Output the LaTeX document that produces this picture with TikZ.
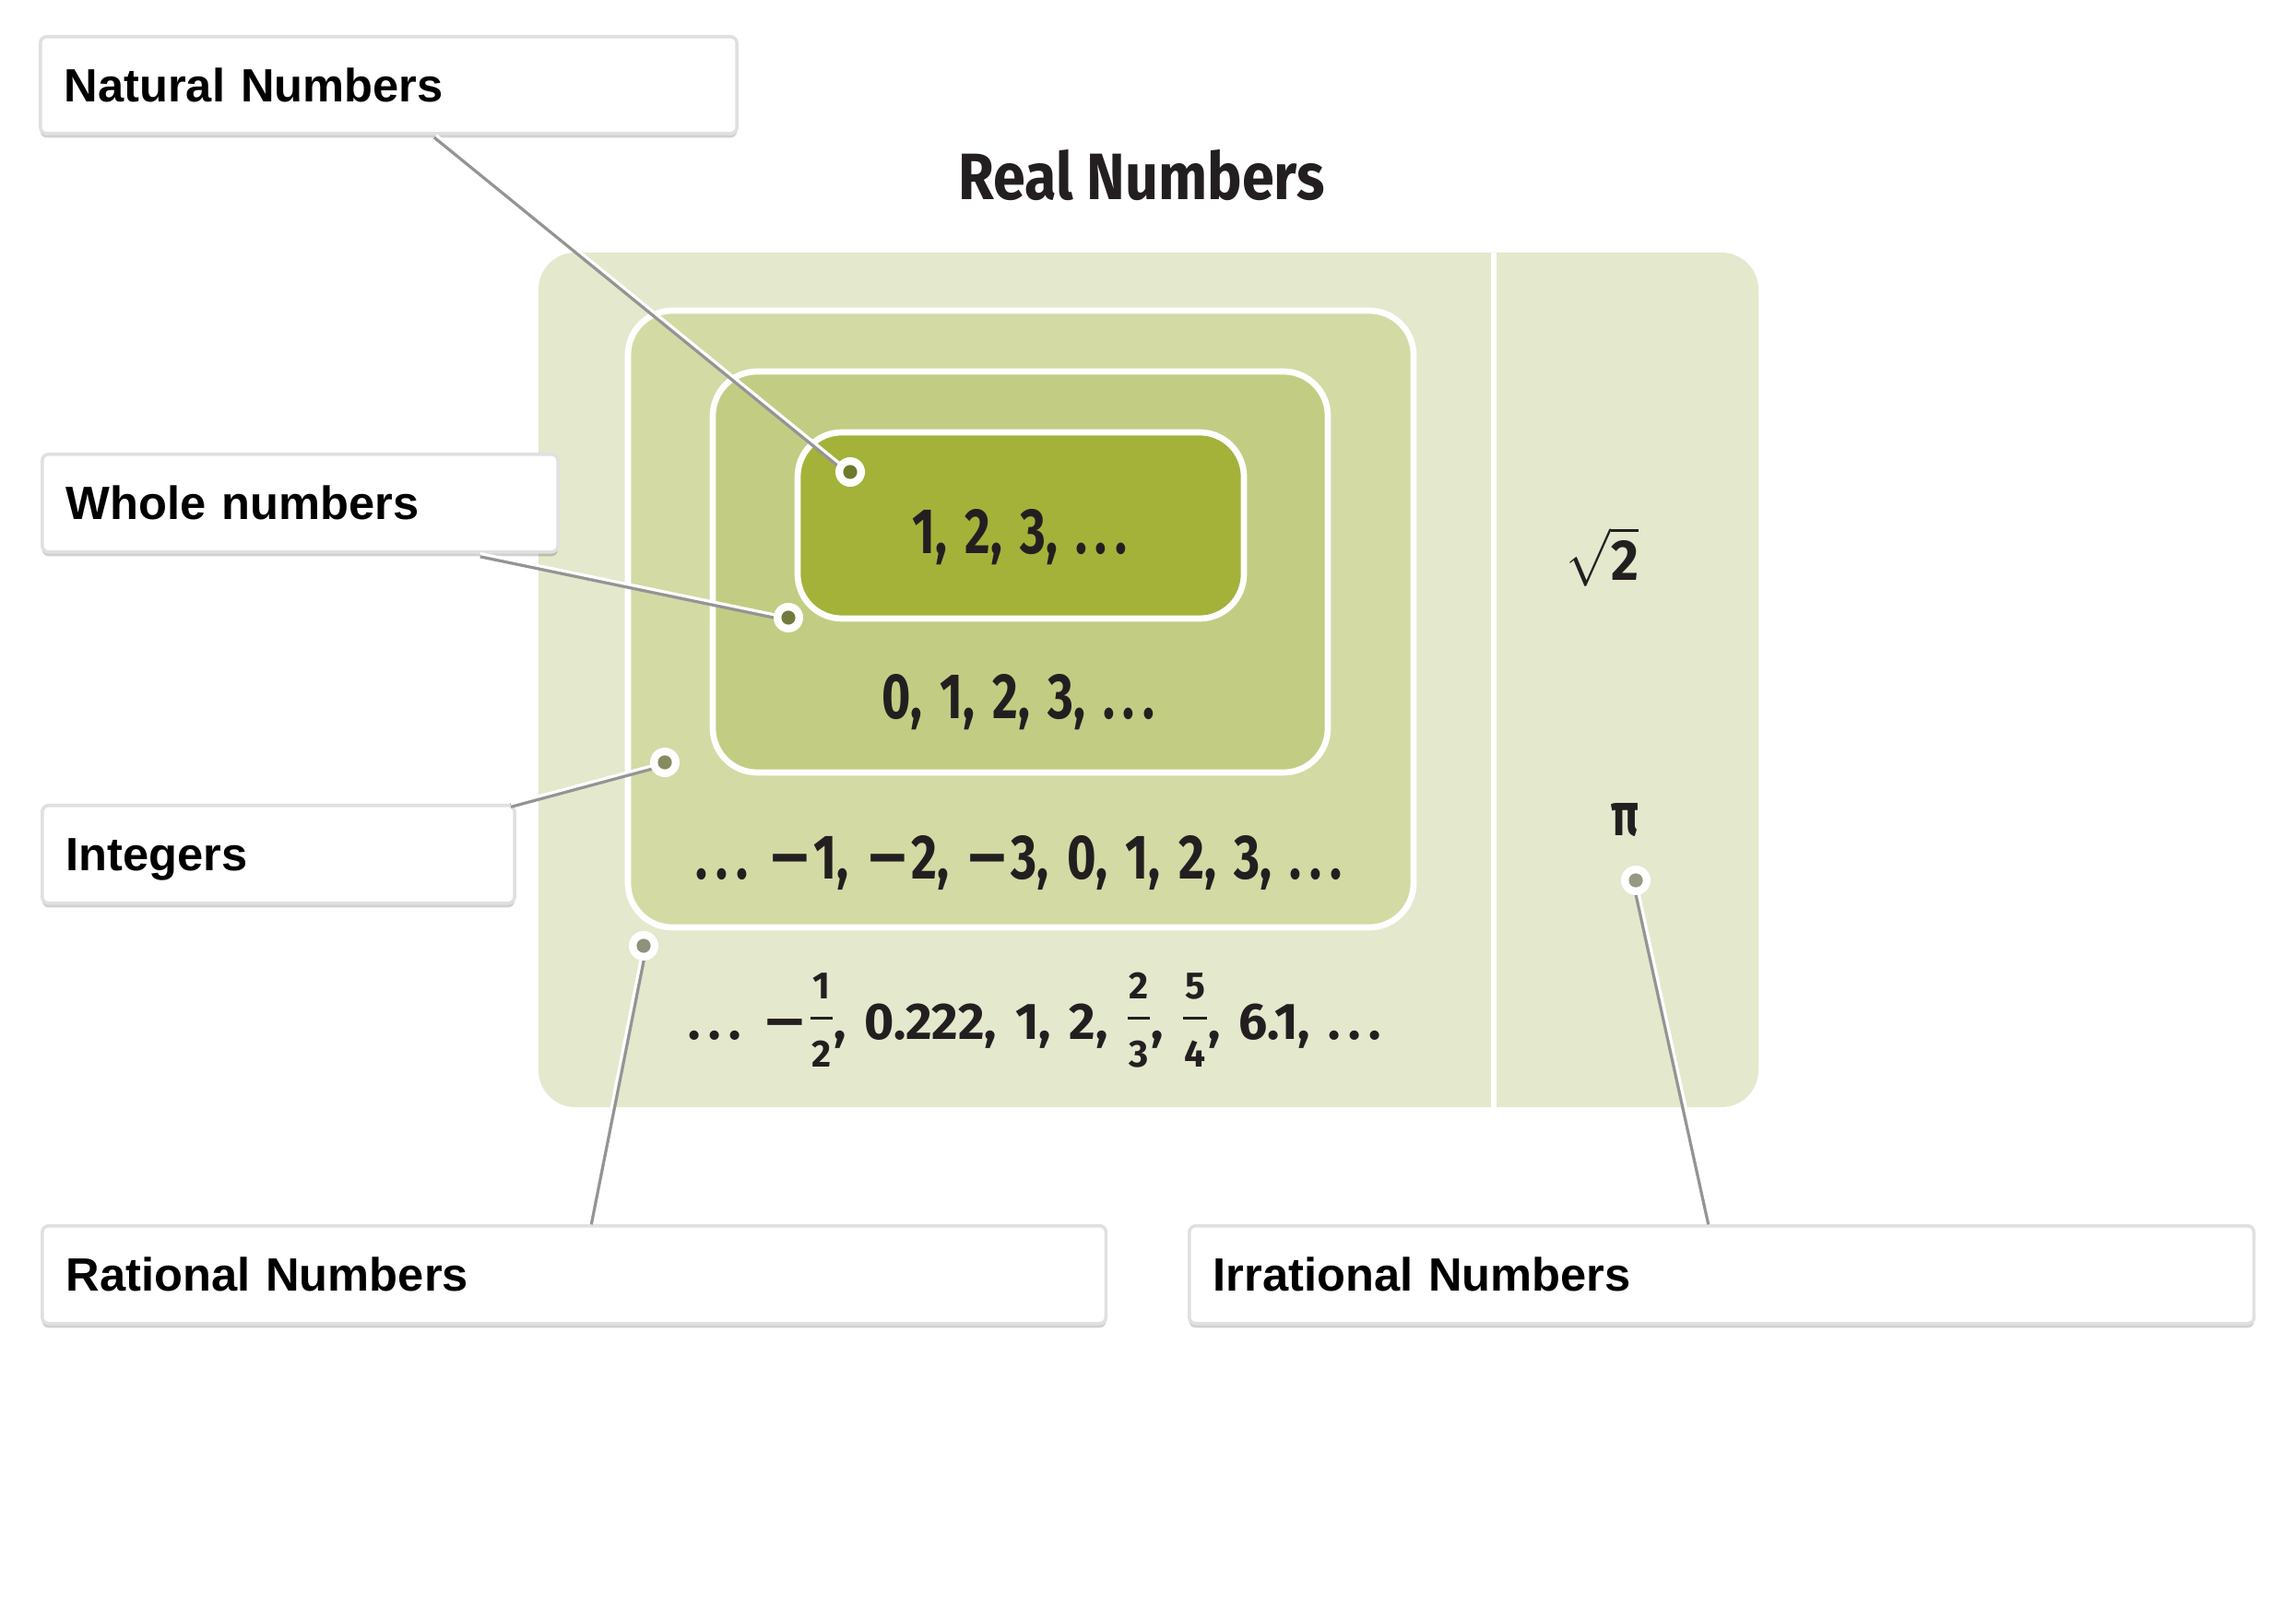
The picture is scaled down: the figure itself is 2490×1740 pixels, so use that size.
\documentclass[tikz,border=0pt]{standalone}
\usepackage{fontspec}
\usepackage{graphicx}
\setmainfont{Liberation Sans}
\newfontfamily\cond{Fira Sans}
\usetikzlibrary{shadows,calc}
\definecolor{panel}{HTML}{E4E8CD}
\definecolor{intc}{HTML}{D3DAA4}
\definecolor{wholec}{HTML}{C2CD83}
\definecolor{natc}{HTML}{A4B23A}
\definecolor{ink}{HTML}{231F20}
\definecolor{dotA}{HTML}{6C7A2B}
\definecolor{dotB}{HTML}{737A3E}
\definecolor{dotC}{HTML}{868C5E}
\definecolor{dotD}{HTML}{8F927B}
\definecolor{dotE}{HTML}{959A84}
\newcommand\mn{\scalebox{1.6}[1]{−}\kern0.06em}
\newcommand\el{.\kern0.16em.\kern0.16em.}
\newcommand\nums{\cond\bfseries\spaceskip=0.36em\relax}
\newcommand\fr[2]{%
  \setbox0=\hbox{\fontsize{11.8}{13}\selectfont #1}%
  \setbox2=\hbox{\fontsize{11.8}{13}\selectfont #2}%
  \dimen0=\wd0 \ifdim\wd2>\dimen0 \dimen0=\wd2 \fi
  \advance\dimen0 by 1.0pt
  \kern0.02em
  \rlap{\raisebox{12.5pt}{\hbox to\dimen0{\hss\box0\hss}}}%
  \rlap{\raisebox{-8.6pt}{\hbox to\dimen0{\hss\box2\hss}}}%
  \raisebox{6.1pt}{\rule{\dimen0}{0.85pt}}%
  \kern0.02em}
\tikzset{
  lbl/.style={draw=black!12, line width=1pt, fill=white, rounded corners=2pt,
    anchor=north west, inner xsep=0.26cm, inner ysep=0pt,
    text height=10.3pt, text depth=0pt, align=left,
    font=\bfseries\fontsize{14.4}{17}\selectfont,
    drop shadow={shadow xshift=0pt, shadow yshift=-1.3pt, fill=black, opacity=0.18}},
  nest/.style={draw=white, line width=1.9pt, rounded corners=0.48cm},
  numtxt/.style={anchor=base, inner sep=0pt, text=ink},
  conn/.style={preaction={draw=black!42, line width=1.6pt,
      transform canvas={shift={#1}}}, draw=white, line width=0.9pt},
  dot/.style={circle, fill=white, minimum size=0.32cm, inner sep=0pt,
    path picture={\fill[#1] (path picture bounding box.center) circle (0.076cm);}}
}
\begin{document}
\begin{tikzpicture}[x=0.01cm, y=-0.01cm]
\useasboundingbox (0,0) rectangle (2490,1740);
\fill[white] (0,0) rectangle (2490,1740);

% title
\node[numtxt] (title) at (1238,217) {\resizebox{3.97cm}{0.54cm}{\cond\bfseries Real Numbers}};

% panels
\fill[panel, rounded corners=0.4cm] (584,274) rectangle (1907,1201);
\draw[white, line width=1.5pt] (1620,274) -- (1620,1201);
\filldraw[nest, fill=intc] (681,337) rectangle (1533,1006);
\filldraw[nest, fill=wholec] (773,403) rectangle (1440,838);
\filldraw[nest, fill=natc] (865,469) rectangle (1349,671);

% numbers
\node[numtxt] (l1) at (1106,601) {\resizebox{2.32cm}{0.48cm}{\nums 1, 2, 3, \el}};
\node[numtxt] (l2) at (1104.5,780) {\resizebox{2.95cm}{0.48cm}{\nums 0, 1, 2, 3, \el}};
\node[numtxt] (l3) at (1105,954) {\resizebox{7.00cm}{0.47cm}{\nums \el{} \mn1, \mn2, \mn3, 0, 1, 2, 3, \el}};
\node[numtxt] (l4) at (1122.5,1127) {\resizebox{7.51cm}{0.72cm}{\fontsize{16}{19}\selectfont\nums \el{} \mn\fr{1}{2}, 0.222, 1, 2, \fr{2}{3}, \fr{5}{4}, 6.1, \el}};
\node[numtxt] (sq) at (1738,630) {\resizebox{0.78cm}{0.58cm}{$\sqrt{\mbox{\cond\bfseries 2}}$}};
\node[numtxt] (pi) at (1762,907) {\resizebox{0.30cm}{0.35cm}{\cond\bfseries π}};

% label boxes
\node[lbl, minimum width=7.55cm, minimum height=1.05cm, text width=7.03cm] (nat) at (42,38) {Natural Numbers};
\node[lbl, minimum width=5.59cm, minimum height=1.06cm, text width=5.07cm] (whole) at (44,491) {Whole numbers};
\node[lbl, minimum width=5.12cm, minimum height=1.06cm, text width=4.60cm] (int) at (44,872) {Integers};
\node[lbl, minimum width=11.53cm, minimum height=1.06cm, text width=11.01cm] (rat) at (44,1328) {Rational Numbers};
\node[lbl, minimum width=11.54cm, minimum height=1.06cm, text width=11.02cm] (irr) at (1288,1328) {Irrational Numbers};

% connector ends
\coordinate (dnat) at (922,512);
\coordinate (dwhole) at (855,670);
\coordinate (dint) at (721,827);
\coordinate (drat) at (698,1026);
\coordinate (dirr) at (1774,955);

\draw[conn={(-0.4pt,-0.45pt)}] ($(nat.south west)+(431,0)$) -- (dnat);
\draw[conn={(0pt,-0.6pt)}] ($(whole.south west)+(477,0)$) -- (dwhole);
\draw[conn={(0pt,-0.6pt)}] ($(int.north east)+(-6,0)$) -- (dint);
\draw[conn={(0.6pt,0pt)}] ($(rat.north west)+(594,0)$) -- (drat);
\draw[conn={(-0.6pt,0pt)}] ($(irr.north west)+(568,0)$) -- (dirr);

\node[dot=dotA] (natdot) at (dnat) {};
\node[dot=dotB] (wholedot) at (dwhole) {};
\node[dot=dotC] (intdot) at (dint) {};
\node[dot=dotD] (ratdot) at (drat) {};
\node[dot=dotE] (irrdot) at (dirr) {};
\end{tikzpicture}
\end{document}
